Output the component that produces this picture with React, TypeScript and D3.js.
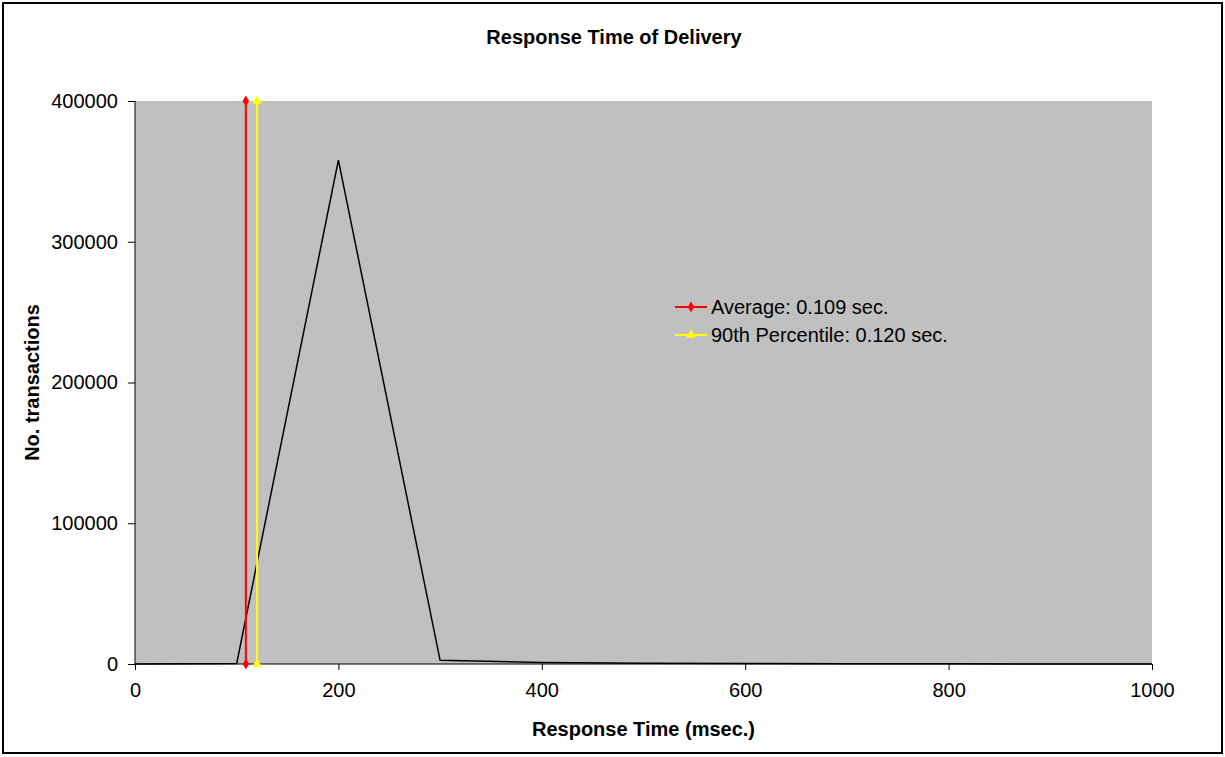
import React, { useEffect, useRef } from "react";
import * as d3 from "d3";

// response time buckets (msec) and transaction counts
const buckets = [0, 100, 200, 300, 400, 500, 600, 700, 800, 900, 1000];
const counts = [0, 400, 358000, 2600, 1100, 500, 300, 200, 100, 50, 0];

const xTicks = [0, 200, 400, 600, 800, 1000];
const yTicks = [0, 100000, 200000, 300000, 400000];

const averageMs = 109;
const percentile90Ms = 120;
const legendLabels = ["Average: 0.109 sec.", "90th Percentile: 0.120 sec."];

const App = () => {
  const svgRef = useRef<SVGSVGElement>(null);

  useEffect(() => {
    const width = 1225, height = 757;
    const margin = { top: 101, right: 73, bottom: 93, left: 135 };
    const font = "Arial, 'Liberation Sans', sans-serif";

    const svg = d3.select(svgRef.current);
    svg.selectAll("*").remove();

    // cadre extérieur
    svg.append("rect")
      .attr("x", 3).attr("y", 3)
      .attr("width", width - 6).attr("height", height - 7)
      .attr("fill", "white").attr("stroke", "black").attr("stroke-width", 2);

    const x = d3.scaleLinear().domain([0, 1000]).range([margin.left, width - margin.right]);
    const y = d3.scaleLinear().domain([0, 400000]).range([height - margin.bottom, margin.top]);

    // zone du graphique
    svg.append("rect")
      .attr("x", x(0)).attr("y", y(400000))
      .attr("width", x(1000) - x(0)).attr("height", y(0) - y(400000))
      .attr("fill", "#c0c0c0");

    const xAxis = svg.append("g")
      .attr("transform", `translate(0,${y(0)})`)
      .call(d3.axisBottom(x).tickValues(xTicks).tickSize(6).tickPadding(13).tickFormat(d3.format("d")));
    const yAxis = svg.append("g")
      .attr("transform", `translate(${x(0)},0)`)
      .call(d3.axisLeft(y).tickValues(yTicks).tickSize(7).tickPadding(10).tickFormat(d3.format("d")));

    [xAxis, yAxis].forEach(g => {
      g.select(".domain").attr("stroke", "black").attr("stroke-width", 1);
      g.selectAll(".tick line").attr("stroke", "black");
      g.selectAll("text").style("font-family", font).style("font-size", "20px").attr("fill", "black");
    });
    xAxis.select(".domain").attr("d", `M${x(0)},0H${x(1000)}`);
    yAxis.select(".domain").attr("d", `M0,${y(0)}V${y(400000)}`);

    // courbe des transactions
    const line = d3.line<number>()
      .x((d, i) => x(buckets[i]))
      .y(d => y(d));
    svg.append("path")
      .datum(counts)
      .attr("fill", "none")
      .attr("stroke", "black")
      .attr("stroke-width", 1.5)
      .attr("d", line);

    const diamond = d3.symbol().type(d3.symbolDiamond).size(36);
    const triangle = d3.symbol().type(d3.symbolTriangle).size(40);

    // lignes moyenne / 90e percentile
    const markers = [
      { ms: averageMs, color: "#ff0000", sym: diamond },
      { ms: percentile90Ms, color: "#ffff00", sym: triangle }
    ];
    markers.forEach(m => {
      svg.append("line")
        .attr("x1", x(m.ms)).attr("x2", x(m.ms))
        .attr("y1", y(0)).attr("y2", y(400000))
        .attr("stroke", m.color).attr("stroke-width", 2);
      [0, 400000].forEach(v => {
        svg.append("path")
          .attr("d", m.sym()!)
          .attr("transform", `translate(${x(m.ms)},${y(v)})`)
          .attr("fill", m.color);
      });
    });

    // légende
    legendLabels.forEach((label, i) => {
      const ly = 307 + i * 28;
      const m = markers[i];
      svg.append("line")
        .attr("x1", 675).attr("x2", 707)
        .attr("y1", ly).attr("y2", ly)
        .attr("stroke", m.color).attr("stroke-width", 2);
      svg.append("path")
        .attr("d", m.sym()!)
        .attr("transform", `translate(691,${ly})`)
        .attr("fill", m.color);
      svg.append("text")
        .attr("x", 711).attr("y", ly)
        .attr("dy", "0.35em")
        .style("font-family", font).style("font-size", "20px")
        .text(label);
    });

    // titres
    svg.append("text")
      .attr("x", 614).attr("y", 44)
      .attr("text-anchor", "middle")
      .style("font-family", font).style("font-size", "20px").style("font-weight", "bold")
      .text("Response Time of Delivery");

    svg.append("text")
      .attr("x", x(500)).attr("y", 736)
      .attr("text-anchor", "middle")
      .style("font-family", font).style("font-size", "20px").style("font-weight", "bold")
      .text("Response Time (msec.)");

    svg.append("text")
      .attr("transform", `translate(39,${(y(0) + y(400000)) / 2}) rotate(-90)`)
      .attr("text-anchor", "middle")
      .style("font-family", font).style("font-size", "20px").style("font-weight", "bold")
      .text("No. transactions");
  }, []);

  return (
    <svg ref={svgRef} width="1225" height="757"
      style={{ position: "absolute", left: 0, top: 0 }}></svg>
  );
};

export default App;
